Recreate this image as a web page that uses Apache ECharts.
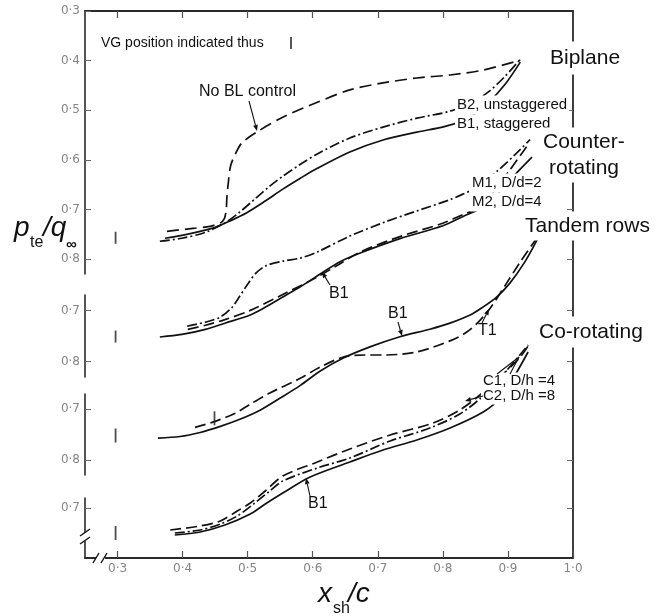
<!DOCTYPE html>
<html>
<head>
<meta charset="utf-8">
<script src="https://cdn.jsdelivr.net/npm/echarts@6/dist/echarts.min.js"></script>
<style>
  html, body { margin: 0; padding: 0; background: #fff; }
  #chart { width: 663px; height: 616px; }
</style>
</head>
<body>
<div id="chart"></div>
<script>
// Trailing-edge pressure p_te/q∞ against shock position x_sh/c,
// four vortex-generator arrangements stacked with offset pressure scales.

const xTicks = [0.3, 0.4, 0.5, 0.6, 0.7, 0.8, 0.9, 1.0];
const xTopTicks = [0.3, 0.4, 0.5, 0.6, 0.7, 0.8, 0.9];
const biplaneTicks = [0.3, 0.4, 0.5, 0.6, 0.7, 0.8];
const biplaneRightTicks = [0.4, 0.5, 0.6, 0.7, 0.8];
const panelTicks = [0.7, 0.8];
const lowestPanelTicks = [0.7];

// Biplane
const noBLControl = [[0.376,0.744],[0.416,0.738],[0.442,0.734],[0.458,0.727],[0.464,0.719],[0.467,0.701],[0.468,0.677],[0.470,0.649],[0.474,0.611],[0.482,0.586],[0.491,0.566],[0.514,0.544],[0.554,0.514],[0.607,0.484],[0.657,0.459],[0.708,0.445],[0.760,0.435],[0.811,0.429],[0.862,0.419],[0.919,0.399]];
const biplaneB2 = [[0.365,0.764],[0.399,0.758],[0.435,0.746],[0.465,0.727],[0.488,0.705],[0.511,0.679],[0.534,0.653],[0.554,0.633],[0.581,0.609],[0.607,0.588],[0.657,0.556],[0.708,0.534],[0.760,0.516],[0.811,0.502],[0.842,0.486],[0.870,0.463],[0.896,0.431],[0.919,0.397]];
const biplaneB1 = [[0.373,0.758],[0.399,0.752],[0.427,0.744],[0.450,0.736],[0.473,0.723],[0.498,0.707],[0.527,0.683],[0.554,0.659],[0.581,0.637],[0.607,0.617],[0.657,0.584],[0.708,0.560],[0.760,0.544],[0.802,0.533],[0.840,0.516],[0.871,0.483],[0.896,0.447],[0.919,0.403]];

// Counter-rotating
const counterM1 = [[0.407,0.731],[0.435,0.723],[0.458,0.713],[0.476,0.694],[0.488,0.672],[0.501,0.647],[0.513,0.627],[0.528,0.613],[0.554,0.604],[0.581,0.598],[0.607,0.586],[0.657,0.555],[0.708,0.529],[0.760,0.506],[0.811,0.484],[0.831,0.473],[0.857,0.457],[0.883,0.429],[0.911,0.396],[0.934,0.367]];
const counterM2 = [[0.408,0.737],[0.435,0.729],[0.465,0.718],[0.504,0.700],[0.554,0.669],[0.607,0.635],[0.642,0.609],[0.673,0.586],[0.734,0.556],[0.800,0.530],[0.831,0.513],[0.862,0.497],[0.880,0.465],[0.903,0.426],[0.929,0.380]];
const counterB1 = [[0.365,0.752],[0.399,0.747],[0.435,0.737],[0.465,0.725],[0.504,0.709],[0.527,0.694],[0.554,0.674],[0.581,0.654],[0.614,0.627],[0.642,0.605],[0.673,0.588],[0.734,0.560],[0.800,0.535],[0.834,0.515],[0.862,0.499],[0.888,0.468],[0.911,0.435],[0.937,0.401]];

// Tandem rows
const tandemB1 = [[0.362,0.757],[0.396,0.754],[0.427,0.746],[0.458,0.734],[0.488,0.720],[0.519,0.702],[0.550,0.678],[0.581,0.653],[0.611,0.625],[0.647,0.599],[0.688,0.577],[0.734,0.557],[0.780,0.542],[0.811,0.530],[0.842,0.514],[0.862,0.498],[0.883,0.478],[0.903,0.451],[0.926,0.409],[0.945,0.365]];
const tandemT1 = [[0.419,0.736],[0.450,0.724],[0.481,0.708],[0.504,0.690],[0.534,0.668],[0.581,0.639],[0.611,0.617],[0.647,0.597],[0.680,0.593],[0.708,0.593],[0.760,0.587],[0.811,0.565],[0.834,0.550],[0.853,0.530],[0.873,0.500],[0.896,0.455],[0.919,0.409],[0.945,0.361]];

// Co-rotating
const corotB1 = [[0.388,0.754],[0.427,0.748],[0.465,0.734],[0.504,0.712],[0.527,0.692],[0.554,0.670],[0.596,0.638],[0.657,0.608],[0.708,0.584],[0.760,0.564],[0.811,0.540],[0.862,0.508],[0.888,0.480],[0.911,0.434],[0.931,0.388]];
const corotC1 = [[0.381,0.744],[0.427,0.736],[0.458,0.726],[0.484,0.706],[0.504,0.690],[0.527,0.666],[0.554,0.636],[0.607,0.608],[0.657,0.582],[0.719,0.554],[0.785,0.530],[0.826,0.504],[0.857,0.474],[0.888,0.438],[0.919,0.398],[0.934,0.370]];
const corotC2 = [[0.388,0.750],[0.427,0.744],[0.458,0.732],[0.484,0.716],[0.511,0.690],[0.534,0.666],[0.554,0.646],[0.607,0.620],[0.657,0.600],[0.719,0.566],[0.780,0.540],[0.826,0.512],[0.860,0.478],[0.896,0.428],[0.931,0.374]];

// Vortex-generator positions
const vgBiplane = [[0.297, 0.757]];
const vgCounter = [[0.297, 0.751]];
const vgTandem = [[0.297, 0.752], [0.449, 0.718]];
const vgCorot = [[0.297, 0.750]];

const FONT = '"Liberation Sans", Arial, sans-serif';
const INK = '#111';
const AXIS = '#2a2a2a';
const SOLID = 'solid';
const DASH = [11, 5];
const DASHDOT = [10, 3, 2, 3];

const fmt = v => v.toFixed(1).replace('.', '\u00b7');

// stacked panels share the x scale; each has its own offset pressure scale
const panels = [
  { top: 11,  height: 263, min: 0.30, max: 0.83, ticks: biplaneTicks, rightTicks: biplaneRightTicks },
  { top: 295, height: 82,  min: 0.67, max: 0.83, ticks: panelTicks, rightTicks: panelTicks },
  { top: 394, height: 81,  min: 0.67, max: 0.83, ticks: panelTicks, rightTicks: panelTicks },
  { top: 498, height: 60,  min: 0.68, max: 0.80, ticks: lowestPanelTicks, rightTicks: lowestPanelTicks }
];

const curves = [
  { panel: 0, data: noBLControl, dash: [12, 6] },
  { panel: 0, data: biplaneB2, dash: DASHDOT },
  { panel: 0, data: biplaneB1, dash: SOLID },
  { panel: 1, data: counterM1, dash: DASHDOT },
  { panel: 1, data: counterM2, dash: DASH },
  { panel: 1, data: counterB1, dash: SOLID },
  { panel: 2, data: tandemB1, dash: SOLID },
  { panel: 2, data: tandemT1, dash: DASH },
  { panel: 3, data: corotB1, dash: SOLID },
  { panel: 3, data: corotC1, dash: DASH },
  { panel: 3, data: corotC2, dash: DASHDOT }
];
const vgSets = [
  { panel: 0, data: vgBiplane, size: [1.8, 12] },
  { panel: 1, data: vgCounter, size: [1.8, 12] },
  { panel: 2, data: vgTandem, size: [1.8, 14] },
  { panel: 3, data: vgCorot, size: [1.8, 14] }
];

const grid = [], xAxis = [], yAxis = [], series = [];
const tickLabel = { color: '#858585', fontSize: 12, fontFamily: '"DejaVu Sans", sans-serif' };

panels.forEach((p, i) => {
  grid.push({ left: 85, right: 90, top: p.top, height: p.height });
  xAxis.push({ gridIndex: i, type: 'value', min: 0.25, max: 1.0, show: false });
});
panels.forEach((p, i) => {
  yAxis.push({
    gridIndex: i, type: 'value', inverse: true, min: p.min, max: p.max, position: 'left',
    axisLine: { show: true, onZero: false, lineStyle: { color: AXIS, width: 1.6 } },
    axisTick: { show: true, inside: true, length: 6, customValues: p.ticks, lineStyle: { color: '#666', width: 1 } },
    axisLabel: Object.assign({ show: true, customValues: p.ticks, formatter: fmt, margin: 5 }, tickLabel),
    splitLine: { show: false }
  });
});
panels.forEach((p, i) => {
  yAxis.push({
    gridIndex: i, type: 'value', inverse: true, min: p.min, max: p.max, position: 'right',
    axisLine: { show: false },
    axisTick: { show: true, inside: true, length: 6, customValues: p.rightTicks, lineStyle: { color: '#666', width: 1 } },
    axisLabel: { show: false },
    splitLine: { show: false }
  });
});

// outer frame: bottom scale, top border with ticks, right border
grid.push({ left: 85, right: 90, top: 11, bottom: 58 });
xAxis.push({
  gridIndex: 4, type: 'value', min: 0.25, max: 1.0, position: 'bottom',
  axisLine: { show: true, onZero: false, lineStyle: { color: AXIS, width: 1.8 } },
  axisTick: { show: true, inside: true, length: 7, customValues: xTicks, lineStyle: { color: '#555', width: 1.2 } },
  axisLabel: Object.assign({ show: true, customValues: xTicks, formatter: fmt, margin: 5 }, tickLabel),
  splitLine: { show: false }
});
xAxis.push({
  gridIndex: 4, type: 'value', min: 0.25, max: 1.0, position: 'top',
  axisLine: { show: true, onZero: false, lineStyle: { color: AXIS, width: 1.8 } },
  axisTick: { show: true, inside: true, length: 7, customValues: xTopTicks, lineStyle: { color: '#555', width: 1.2 } },
  axisLabel: { show: false },
  splitLine: { show: false }
});
yAxis.push({
  gridIndex: 4, type: 'value', min: 0, max: 1, position: 'right',
  axisLine: { show: true, onZero: false, lineStyle: { color: AXIS, width: 1.8 } },
  axisTick: { show: false }, axisLabel: { show: false }, splitLine: { show: false }
});

curves.forEach(c => {
  series.push({
    type: 'line', xAxisIndex: c.panel, yAxisIndex: c.panel, data: c.data,
    showSymbol: false, smooth: 0.3, clip: false, silent: true, z: 3,
    lineStyle: { color: INK, width: 1.7, type: c.dash }
  });
});
vgSets.forEach(v => {
  series.push({
    type: 'scatter', xAxisIndex: v.panel, yAxisIndex: v.panel, data: v.data,
    symbol: 'rect', symbolSize: v.size, clip: false, silent: true, z: 3,
    itemStyle: { color: '#222' }
  });
});

// annotation helpers
const Z = 100;
function label(text, x, y, size, opts) {
  return Object.assign({
    type: 'text', x, y, z: Z,
    style: Object.assign({
      text, fill: INK, font: size + 'px ' + FONT,
      align: 'left', verticalAlign: 'middle',
      backgroundColor: '#fff', padding: [2, 2]
    }, opts || {})
  });
}
function arrow(x1, y1, x2, y2) {
  const a = Math.atan2(y2 - y1, x2 - x1), L = 6, W = 2.4;
  const bx = x2 - L * Math.cos(a), by = y2 - L * Math.sin(a);
  const nx = -Math.sin(a) * W, ny = Math.cos(a) * W;
  return [
    { type: 'line', z: Z, shape: { x1, y1, x2: bx, y2: by }, style: { stroke: INK, lineWidth: 1.1 } },
    { type: 'polygon', z: Z, shape: { points: [[x2, y2], [bx + nx, by + ny], [bx - nx, by - ny]] }, style: { fill: INK } }
  ];
}
function seg(x1, y1, x2, y2, w) {
  return { type: 'line', z: Z, shape: { x1, y1, x2, y2 }, style: { stroke: INK, lineWidth: w || 1.1 } };
}

const graphic = [
  label('VG position indicated thus', 99, 43, 14, { backgroundColor: null }),
  seg(291, 37, 291, 49, 1.4),
  label('No BL control', 197, 92, 16, { backgroundColor: null }),
  ...arrow(249, 101, 257, 131),
  label('B2, unstaggered', 455, 105, 15),
  label('B1, staggered', 455, 124, 15),
  label('Biplane', 547, 58, 21, { padding: [6, 3] }),
  label('Counter-', 540, 142, 21, { padding: [4, 3] }),
  label('rotating', 546, 168, 21, { padding: [4, 3] }),
  label('M1, D/d=2', 470, 183, 15),
  label('M2, D/d=4', 470, 202, 15),
  label('Tandem rows', 522, 226, 21, { padding: [4, 3] }),
  label('B1', 327, 294, 16, { backgroundColor: null }),
  ...arrow(330, 285, 322, 272),
  label('B1', 386, 314, 16, { backgroundColor: null }),
  ...arrow(398, 322, 402, 336),
  label('T1', 476, 331, 16, { backgroundColor: null }),
  ...arrow(482, 323, 489, 309),
  label('Co-rotating', 536, 332, 21, { padding: [5, 3] }),
  label('C1, D/h =4', 481, 381, 15, { padding: [1, 2] }),
  label('C2, D/h =8', 481, 396, 15, { padding: [1, 2] }),
  seg(497, 374, 519, 357), seg(510, 374, 519, 357),
  ...arrow(483, 396, 465, 401),
  label('B1', 306, 504, 16, { backgroundColor: null }),
  ...arrow(310, 496, 306, 478),
  // axis breaks
  { type: 'rect', z: Z, shape: { x: 96, y: 554, width: 9, height: 8 }, style: { fill: '#fff' } },
  seg(93, 563, 99, 553, 1.4), seg(101, 563, 107, 553, 1.4),
  { type: 'rect', z: Z, shape: { x: 80, y: 533, width: 10, height: 8 }, style: { fill: '#fff' } },
  seg(80, 536, 90, 529, 1.4), seg(80, 544, 90, 537, 1.4),
  // axis titles
  { type: 'text', z: Z, x: 14, y: 228, style: { text: 'p', fill: INK, font: 'italic 28px ' + FONT, align: 'left', verticalAlign: 'middle' } },
  { type: 'text', z: Z, x: 30, y: 243, style: { text: 'te', fill: INK, font: '16px ' + FONT, align: 'left', verticalAlign: 'middle' } },
  { type: 'text', z: Z, x: 43, y: 228, style: { text: '/q', fill: INK, font: 'italic 28px ' + FONT, align: 'left', verticalAlign: 'middle' } },
  { type: 'text', z: Z, x: 66, y: 245, style: { text: '\u221e', fill: INK, font: 'italic bold 15px ' + FONT, align: 'left', verticalAlign: 'middle' } },
  { type: 'text', z: Z, x: 318, y: 594, style: { text: 'x', fill: INK, font: 'italic 28px ' + FONT, align: 'left', verticalAlign: 'middle' } },
  { type: 'text', z: Z, x: 333, y: 609, style: { text: 'sh', fill: INK, font: '16px ' + FONT, align: 'left', verticalAlign: 'middle' } },
  { type: 'text', z: Z, x: 348, y: 594, style: { text: '/c', fill: INK, font: 'italic 28px ' + FONT, align: 'left', verticalAlign: 'middle' } }
];

const chart = echarts.init(document.getElementById('chart'), null, { renderer: 'canvas', width: 663, height: 616 });
chart.setOption({
  animation: false,
  backgroundColor: '#fff',
  grid, xAxis, yAxis, series, graphic
});
</script>
</body>
</html>
